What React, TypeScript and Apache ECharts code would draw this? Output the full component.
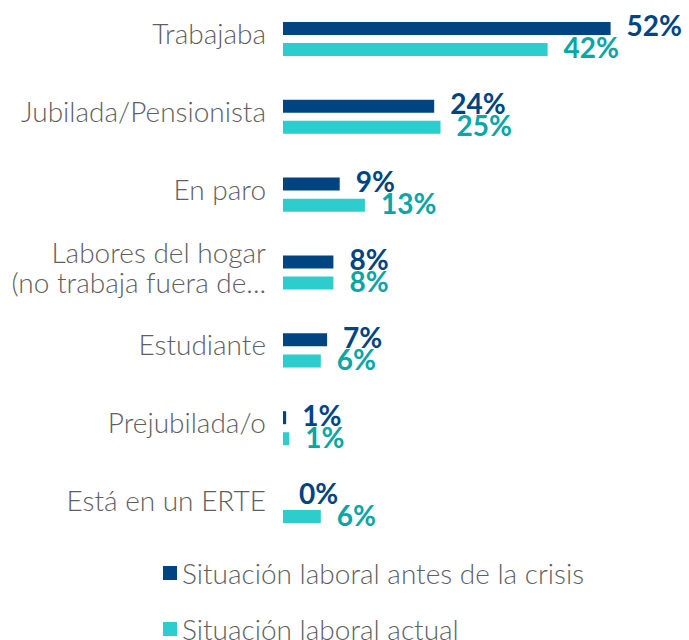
import React, { useEffect, useRef } from "react";
import * as echarts from "echarts";

const categories = [
  "Trabajaba",
  "Jubilada/Pensionista",
  "En paro",
  "Labores del hogar\n(no trabaja fuera de...",
  "Estudiante",
  "Prejubilada/o",
  "Está en un ERTE",
];
const seriesNames = ["Situación laboral antes de la crisis", "Situación laboral actual"];
const antes = [52, 24, 9, 8, 7, 0.5, 0];
const actual = [42, 25, 13, 8, 6, 1, 6];
const antesLabels = ["52%", "24%", "9%", "8%", "7%", "1%", "0%"];
const actualLabels = ["42%", "25%", "13%", "8%", "6%", "1%", "6%"];

const DARK = "#004481";
const TEAL = "#2DCCCD";
const TEAL_TEXT = "#0AA5A5";
const GRAY = "#5f5f5f";
const FONT = "Lato, 'Noto Sans', sans-serif";

export default function App() {
  const ref = useRef<HTMLDivElement>(null);
  useEffect(() => {
    if (!ref.current) return;
    const chart = echarts.init(ref.current, undefined, { renderer: "svg" });
    const legendText = { fontSize: 28, fontWeight: 300, color: GRAY, fontFamily: FONT };
    chart.setOption({
      animation: false,
      textStyle: { fontFamily: FONT },
      grid: { left: 283, top: -3, width: 378, height: 548, containLabel: false },
      xAxis: {
        type: "value",
        min: 0,
        max: 60,
        show: false,
      },
      yAxis: {
        type: "category",
        data: categories,
        inverse: true,
        axisLine: { show: false },
        axisTick: { show: false },
        splitLine: { show: false },
        axisLabel: {
          margin: 17,
          fontSize: 28,
          fontWeight: 300,
          color: GRAY,
          fontFamily: FONT,
          lineHeight: 30,
          align: "right",
          formatter: (v: string) =>
            v
              .split("\n")
              .map((line) => "{t|" + line + "}")
              .join("\n") + "\n{s| }",
          rich: {
            t: { fontSize: 28, fontWeight: 300, color: GRAY, fontFamily: FONT, lineHeight: 30 },
            s: { fontSize: 1, lineHeight: 12 },
          },
        },
      },
      legend: [
        {
          orient: "horizontal",
          left: 163,
          top: 559,
          padding: 0,
          itemWidth: 14,
          itemHeight: 14,
          icon: "rect",
          textStyle: legendText,
          data: [seriesNames[0]],
        },
        {
          orient: "horizontal",
          left: 163,
          top: 615,
          padding: 0,
          itemWidth: 14,
          itemHeight: 14,
          icon: "rect",
          textStyle: legendText,
          data: [seriesNames[1]],
        },
      ],
      series: [
        {
          name: seriesNames[0],
          type: "bar",
          data: antes,
          barWidth: 13,
          barGap: "62%",
          itemStyle: { color: DARK },
          label: {
            show: true,
            position: "right",
            distance: 16,
            offset: [0, -3],
            fontSize: 28,
            fontWeight: "bold",
            color: DARK,
            fontFamily: FONT,
            formatter: (p: any) => antesLabels[p.dataIndex],
          },
        },
        {
          name: seriesNames[1],
          type: "bar",
          data: actual,
          barWidth: 13,
          itemStyle: { color: TEAL },
          label: {
            show: true,
            position: "right",
            distance: 16,
            offset: [0, -2],
            fontSize: 28,
            fontWeight: "bold",
            color: TEAL_TEXT,
            fontFamily: FONT,
            formatter: (p: any) => actualLabels[p.dataIndex],
          },
        },
      ],
    });
    return () => chart.dispose();
  }, []);
  return <div ref={ref} style={{ width: 689, height: 640, position: "absolute", left: 0, top: 0 }} />;
}
